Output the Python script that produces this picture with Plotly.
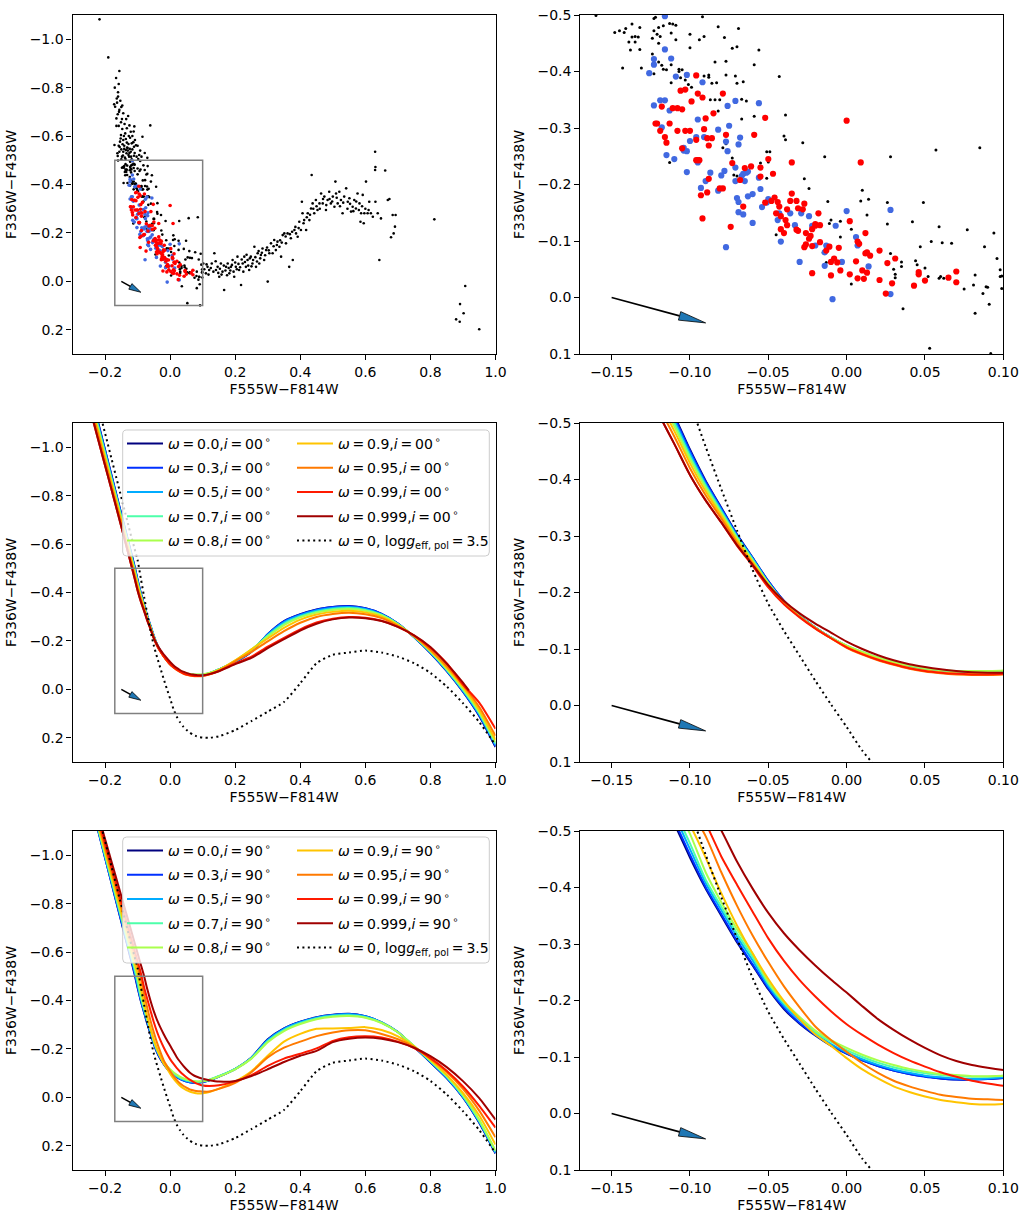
import math
import plotly.graph_objects as go

FONT = "DejaVu Sans"
W, H = 1028, 1223

# ---------------- observed photometry (top row) ----------------
BLACK_X = [
    -0.160, -0.148, -0.145, -0.141, -0.142, -0.137, -0.137, -0.135, -0.132, -0.139, -0.138, -0.135, -0.133, -0.132,
    -0.143, -0.131, -0.123, -0.122, -0.123, -0.121, -0.120, -0.119, -0.117, -0.113, -0.111, -0.109, -0.112, -0.124,
    -0.124, -0.123, -0.120, -0.120, -0.118, -0.117, -0.115, -0.112, -0.112, -0.113, -0.109, -0.107, -0.105, -0.107,
    -0.106, -0.103, -0.101, -0.100, -0.100, -0.099, -0.094, -0.091, -0.092, -0.091, -0.088, -0.088, -0.086, -0.087,
    -0.084, -0.082, -0.083, -0.081, -0.084, -0.078, -0.077, -0.077, -0.073, -0.070, -0.071, -0.070, -0.071, -0.067,
    -0.069, -0.067, -0.082, -0.079, -0.077, -0.073, -0.070, -0.072, -0.066, -0.064, -0.059, -0.056, -0.059, -0.055,
    -0.050, -0.051, -0.051, -0.049, -0.045, -0.043, -0.039, -0.040, -0.039, -0.028, -0.027, -0.024, -0.014, -0.012,
    -0.011, -0.010, -0.004, -0.004, -0.013, -0.015, 0.003, 0.003, 0.009, 0.010, 0.013, 0.014, 0.026, 0.026, 0.028,
    0.028, 0.030, 0.031, 0.031, 0.035, 0.035, 0.036, 0.042, 0.044, 0.045, 0.047, 0.049, 0.050, 0.052, 0.054, 0.057,
    0.059, 0.060, 0.062, 0.059, 0.061, 0.067, 0.075, 0.077, 0.081, 0.082, 0.085, 0.087, 0.088, 0.089, 0.090, 0.091,
    0.094, 0.096, 0.098, 0.098, 0.099, 0.099, 0.082, 0.053, 0.092,
    -0.217, -0.190, -0.156, -0.160, -0.160, -0.172, -0.163, -0.156, -0.144, -0.129, -0.171, -0.165, -0.158, -0.125,
    -0.112, -0.085, -0.061, -0.151, -0.144, -0.141, -0.128, -0.118, -0.111, -0.121, -0.136, -0.144, -0.156, -0.161,
    -0.148, -0.141, -0.131, -0.113, -0.105, -0.150, -0.139, -0.128, -0.118, -0.111, -0.162, -0.155, -0.146, -0.134,
    -0.126, -0.095, -0.133, -0.123, -0.108, -0.138, -0.121, -0.147, -0.132, -0.154, -0.124, -0.151, -0.165, -0.169,
    -0.161, -0.153, -0.147,
    -0.150, -0.145, -0.137, -0.130, -0.125, -0.120, -0.116, -0.109, -0.103, -0.098, -0.158, -0.152, -0.142, -0.136,
    -0.127, -0.116, -0.110, -0.133, -0.140, -0.148, -0.157, -0.164, -0.170, -0.166, -0.158, -0.150, -0.135, -0.100,
    -0.092, -0.088, -0.078, -0.070,
    0.102, 0.110, 0.115, 0.120, 0.128, 0.136, 0.141, 0.146, 0.151, 0.156, 0.161, 0.166, 0.172, 0.177, 0.182, 0.187,
    0.192, 0.197, 0.202, 0.207, 0.212, 0.218, 0.223, 0.228, 0.233, 0.238, 0.243, 0.248, 0.253, 0.259, 0.264, 0.269,
    0.274, 0.279, 0.284, 0.289, 0.295, 0.300, 0.305, 0.310, 0.315, 0.320, 0.325, 0.330, 0.336, 0.341, 0.346, 0.351,
    0.356, 0.361, 0.366, 0.371, 0.377, 0.382, 0.387, 0.392, 0.397, 0.402, 0.405, 0.407, 0.412, 0.418, 0.423, 0.428,
    0.433, 0.435, 0.438, 0.443, 0.448, 0.453, 0.459, 0.464, 0.469, 0.474, 0.479, 0.484, 0.489, 0.494, 0.500, 0.505,
    0.508, 0.510, 0.515, 0.520, 0.525, 0.530, 0.535, 0.541, 0.546, 0.551, 0.556, 0.561, 0.566, 0.571, 0.576, 0.582,
    0.585, 0.587, 0.592, 0.595, 0.597, 0.602, 0.607, 0.612, 0.617, 0.623, 0.630, 0.630, 0.631, 0.631, 0.638, 0.643,
    0.648, 0.661, 0.669, 0.674, 0.679, 0.684, 0.687, 0.691, 0.693, 0.812, 0.879, 0.890, 0.891, 0.902, 0.907, 0.950,
    0.105, 0.112, 0.118, 0.125, 0.133, 0.140, 0.148, 0.153, 0.158, 0.165, 0.170, 0.175, 0.180, 0.185, 0.190, 0.195,
    0.200, 0.205, 0.210, 0.215, 0.220, 0.225, 0.230, 0.235, 0.240, 0.245, 0.250, 0.255, 0.262, 0.267, 0.272, 0.277,
    0.282, 0.292, 0.298, 0.303, 0.318, 0.328, 0.338, 0.343, 0.355, 0.368, 0.375, 0.385, 0.395, 0.410, 0.420, 0.430,
    0.440, 0.450, 0.460, 0.470, 0.480, 0.490, 0.498, 0.512, 0.522, 0.532, 0.545, 0.553, 0.563, 0.572, 0.580, 0.590,
    0.600, 0.610,
]
BLACK_Y = [
    -0.499, -0.469, -0.472, -0.476, -0.469, -0.484, -0.461, -0.462, -0.478, -0.452, -0.438, -0.452, -0.461, -0.439,
    -0.406, -0.406, -0.494, -0.496, -0.472, -0.466, -0.478, -0.462, -0.481, -0.485, -0.484, -0.482, -0.468, -0.459,
    -0.431, -0.396, -0.450, -0.417, -0.411, -0.404, -0.403, -0.412, -0.380, -0.239, -0.456, -0.404, -0.403, -0.400,
    -0.389, -0.385, -0.377, -0.442, -0.466, -0.372, -0.456, -0.462, -0.497, -0.392, -0.394, -0.390, -0.379, -0.350,
    -0.350, -0.479, -0.380, -0.350, -0.417, -0.460, -0.418, -0.394, -0.441, -0.444, -0.392, -0.379, -0.350, -0.351,
    -0.476, -0.316, -0.330, -0.265, -0.272, -0.247, -0.215, -0.217, -0.382, -0.348, -0.412, -0.438, -0.321, -0.238,
    -0.240, -0.258, -0.211, -0.258, -0.111, -0.391, -0.323, -0.286, -0.279, -0.274, -0.210, -0.193, -0.249, -0.170,
    -0.131, -0.137, -0.135, -0.107, -0.062, -0.079, -0.024, -0.121, -0.171, -0.190, -0.146, -0.174, -0.168, -0.130,
    -0.249, -0.078, -0.050, -0.035, -0.041, -0.063, -0.055, 0.020, -0.134, -0.065, -0.058, -0.090, -0.168, -0.052,
    -0.037, -0.099, -0.261, -0.034, -0.037, -0.034, -0.125, -0.097, -0.096, -0.015, -0.120, -0.022, -0.040, -0.265,
    -0.007, -0.090, -0.019, -0.018, 0.012, -0.114, -0.069, -0.049, -0.037, -0.016, -0.038, 0.028, 0.090, 0.099,
    -1.082, -0.925, -0.869, -0.781, -0.763, -0.731, -0.738, -0.708, -0.694, -0.683, -0.563, -0.642, -0.642, -0.644,
    -0.619, -0.597, -0.644, -0.604, -0.584, -0.560, -0.567, -0.570, -0.556, -0.535, -0.542, -0.535, -0.535, -0.518,
    -0.515, -0.547, -0.551, -0.575, -0.562, -0.504, -0.511, -0.522, -0.504, -0.519, -0.529, -0.555, -0.566, -0.529,
    -0.515, -0.522, -0.573, -0.593, -0.584, -0.611, -0.618, -0.629, -0.553, -0.577, -0.547, -0.657, -0.673, -0.721,
    -0.690, -0.746, -0.726,
    -0.545, -0.520, -0.505, -0.540, -0.530, -0.515, -0.545, -0.530, -0.515, -0.505, -0.560, -0.590, -0.600, -0.588,
    -0.600, -0.600, -0.640, -0.632, -0.650, -0.670, -0.700, -0.755, -0.800, -0.840, -0.815, -0.720, -0.670, -0.560,
    -0.540, -0.515, -0.530, -0.510,
    -0.074, -0.033, -0.060, -0.047, -0.074, -0.116, -0.047, -0.060, -0.019, -0.074, -0.040, 0.036, -0.060, -0.074,
    -0.033, -0.060, -0.088, -0.019, -0.060, -0.102, -0.047, 0.015, -0.074, -0.102, -0.060, -0.088, -0.047, -0.102,
    -0.074, -0.143, -0.060, -0.116, -0.074, -0.109, -0.136, -0.088, -0.129, 0.001, -0.116, -0.157, -0.116, -0.171,
    -0.129, -0.164, -0.143, -0.102, -0.191, -0.198, -0.157, -0.198, -0.060, -0.178, -0.088, -0.212, -0.198, -0.184,
    -0.246, -0.212, -0.329, -0.281, -0.253, -0.212, -0.281, -0.253, -0.301, -0.439, -0.322, -0.281, -0.336, -0.295,
    -0.322, -0.363, -0.322, -0.350, -0.295, -0.336, -0.370, -0.322, -0.350, -0.308, -0.412, -0.363, -0.322, -0.370,
    -0.336, -0.281, -0.350, -0.384, -0.329, -0.343, -0.288, -0.308, -0.336, -0.301, -0.363, -0.322, -0.246, -0.281,
    -0.357, -0.240, -0.281, -0.412, -0.281, -0.329, -0.281, -0.267, -0.535, -0.460, -0.472, -0.329, -0.281, -0.088,
    -0.260, -0.458, -0.336, -0.340, -0.182, -0.274, -0.198, -0.226, -0.274, -0.256, 0.157, 0.167, 0.094, 0.132,
    0.019, 0.198,
    -0.050, -0.070, -0.028, -0.055, -0.040, -0.083, -0.035, -0.052, -0.028, -0.065, -0.045, -0.025, -0.055, -0.045,
    -0.068, -0.040, -0.078, -0.050, -0.072, -0.058, -0.090, -0.040, -0.080, -0.110, -0.065, -0.095, -0.062, -0.088,
    -0.100, -0.082, -0.125, -0.095, -0.118, -0.108, -0.140, -0.128, -0.145, -0.150, -0.170, -0.160, -0.185, -0.195,
    -0.205, -0.225, -0.220, -0.240, -0.265, -0.275, -0.300, -0.310, -0.300, -0.340, -0.315, -0.340, -0.330, -0.345,
    -0.310, -0.325, -0.300, -0.320, -0.290, -0.330, -0.295, -0.310, -0.300, -0.295,
]

BLUE_X = [
    -0.116, -0.123, -0.123, -0.116, -0.112, -0.126, -0.109, -0.102, -0.092, -0.123, -0.119, -0.116, -0.113, -0.118,
    -0.115, -0.110, -0.104, -0.104, -0.102, -0.102, -0.100, -0.096, -0.095, -0.091, -0.095, -0.093, -0.090, -0.087,
    -0.082, -0.082, -0.080, -0.078, -0.077, -0.076, -0.076, -0.075, -0.077, -0.071, -0.069, -0.068, -0.071, -0.071,
    -0.070, -0.069, -0.069, -0.066, -0.067, -0.066, -0.065, -0.064, -0.063, -0.063, -0.060, -0.060, -0.056, -0.056,
    -0.055, -0.054, -0.051, -0.050, -0.043, -0.044, -0.042, -0.036, -0.033, -0.030, -0.029, -0.024, -0.022, -0.020,
    -0.014, -0.014, -0.013, -0.007, -0.003, -0.000, 0.006, 0.007, 0.014, 0.028, 0.028, -0.009,
]
BLUE_Y = [
    -0.498, -0.422, -0.412, -0.439, -0.423, -0.397, -0.391, -0.394, -0.381, -0.340, -0.349, -0.349, -0.331, -0.301,
    -0.252, -0.245, -0.265, -0.260, -0.259, -0.222, -0.277, -0.284, -0.315, -0.284, -0.239, -0.194, -0.206, -0.221,
    -0.189, -0.297, -0.216, -0.224, -0.276, -0.339, -0.259, -0.304, -0.089, -0.348, -0.271, -0.283, -0.230, -0.206,
    -0.176, -0.169, -0.151, -0.147, -0.215, -0.219, -0.206, -0.221, -0.223, -0.179, -0.183, -0.132, -0.344, -0.212,
    -0.192, -0.160, -0.168, -0.174, -0.149, -0.137, -0.099, -0.149, -0.128, -0.063, -0.149, -0.144, -0.127, -0.092,
    -0.080, -0.056, -0.092, -0.127, -0.063, -0.153, -0.107, -0.092, -0.055, -0.155, -0.006, 0.003,
]

RED_X = [
    -0.096, -0.106, -0.103, -0.099, -0.095, -0.092, -0.079, -0.085, -0.090, -0.118, -0.111, -0.108, -0.105, -0.122,
    -0.121, -0.113, -0.119, -0.116, -0.115, -0.108, -0.103, -0.100, -0.096, -0.091, -0.089, -0.086, -0.088, -0.077,
    -0.073, -0.059, -0.052, -0.105, -0.096, -0.095, -0.094, -0.088, -0.089, -0.093, -0.092, -0.079, -0.081, -0.074,
    -0.068, -0.065, -0.061, -0.066, -0.055, -0.055, -0.050, -0.047, -0.052, -0.048, -0.046, -0.044, -0.043, -0.042,
    -0.045, -0.042, -0.039, -0.040, -0.038, -0.038, -0.036, -0.035, -0.032, -0.031, -0.028, -0.032, -0.031, -0.026,
    -0.027, -0.024, -0.022, -0.020, -0.020, -0.018, -0.017, -0.035, -0.026, -0.027, -0.023, -0.022, -0.022, -0.017,
    -0.013, -0.011, -0.010, -0.010, -0.008, -0.006, -0.004, -0.005, 0.000, 0.002, 0.002, 0.006, 0.007, 0.008,
    0.007, 0.009, 0.010, 0.011, 0.012, 0.012, 0.013, 0.013, 0.015, 0.021, 0.021, 0.025, 0.026, 0.029, 0.031, 0.043,
    0.046, 0.046, 0.050, 0.065, 0.070, 0.070,
]
RED_Y = [
    -0.393, -0.366, -0.368, -0.347, -0.361, -0.354, -0.361, -0.326, -0.317, -0.338, -0.335, -0.335, -0.333, -0.308,
    -0.308, -0.308, -0.295, -0.284, -0.274, -0.295, -0.295, -0.295, -0.279, -0.298, -0.282, -0.282, -0.269, -0.288,
    -0.238, -0.288, -0.318, -0.264, -0.243, -0.243, -0.243, -0.210, -0.186, -0.181, -0.140, -0.193, -0.193, -0.125,
    -0.208, -0.229, -0.232, -0.161, -0.230, -0.214, -0.245, -0.219, -0.168, -0.171, -0.177, -0.169, -0.161, -0.144,
    -0.149, -0.121, -0.137, -0.114, -0.128, -0.156, -0.171, -0.184, -0.171, -0.158, -0.156, -0.120, -0.118, -0.114,
    -0.089, -0.104, -0.121, -0.130, -0.127, -0.149, -0.128, -0.239, -0.094, -0.166, -0.109, -0.091, -0.043, -0.098,
    -0.083, -0.090, -0.063, -0.039, -0.069, -0.062, -0.048, -0.088, -0.313, -0.135, -0.041, -0.064, -0.099, -0.095,
    -0.034, -0.239, -0.048, -0.033, -0.078, -0.114, -0.044, -0.080, -0.074, -0.083, -0.031, -0.007, -0.061, -0.025,
    -0.069, -0.021, -0.045, -0.041, -0.030, -0.035, -0.027, -0.046,
]

# ---------------- model isochrone colours (rows 2 and 3) ----------------
X_GRID = [-0.24, -0.22, -0.20, -0.18, -0.16, -0.14, -0.13, -0.12, -0.11, -0.10, -0.09, -0.08, -0.07, -0.06,
          -0.05, -0.04, -0.03, -0.02, -0.01, 0.00, 0.01, 0.02, 0.03, 0.04, 0.05, 0.06, 0.07, 0.08, 0.09, 0.10,
          0.12, 0.15, 0.20, 0.25, 0.30, 0.35, 0.40, 0.45, 0.50, 0.55, 0.60, 0.65, 0.70, 0.75, 0.80, 0.85, 0.90,
          0.95, 1.00]
X_GRID_I0_W0999 = X_GRID[:47] + [0.918]

OMEGA_LABELS = ["0.0", "0.3", "0.5", "0.7", "0.8", "0.9", "0.95", "0.99", "0.999"]
OMEGA_COLORS = ["#00007f", "#0030ff", "#00acff", "#4dffaa", "#aaff4d", "#ffc400", "#ff7a00", "#ff1a00", "#a00000"]

I0_W0000 = [-1.202, -1.096, -0.990, -0.884, -0.778, -0.672, -0.619, -0.566, -0.513, -0.453, -0.398, -0.350, -0.303, -0.262, -0.220, -0.185, -0.159, -0.138, -0.120,
            -0.105, -0.093, -0.083, -0.075, -0.069, -0.064, -0.061, -0.059, -0.058, -0.058, -0.059, -0.066, -0.082,
            -0.112, -0.155, -0.228, -0.282, -0.310, -0.330, -0.340, -0.344, -0.335, -0.312, -0.272, -0.215, -0.150, -0.075, 0.010, 0.110, 0.238]
I0_W0300 = [-1.198, -1.092, -0.987, -0.881, -0.775, -0.669, -0.616, -0.563, -0.510, -0.451, -0.396, -0.349, -0.302, -0.261, -0.220, -0.185, -0.159, -0.138, -0.120,
            -0.105, -0.093, -0.083, -0.075, -0.069, -0.064, -0.061, -0.059, -0.058, -0.058, -0.059, -0.066, -0.082,
            -0.113, -0.156, -0.228, -0.281, -0.309, -0.329, -0.340, -0.343, -0.335, -0.312, -0.272, -0.216, -0.151, -0.077, 0.008, 0.107, 0.235]
I0_W0500 = [-1.190, -1.085, -0.980, -0.874, -0.769, -0.664, -0.611, -0.558, -0.505, -0.446, -0.392, -0.346, -0.300, -0.260, -0.218, -0.184, -0.159, -0.138, -0.120,
            -0.105, -0.093, -0.084, -0.076, -0.069, -0.064, -0.061, -0.059, -0.059, -0.059, -0.060, -0.066, -0.082,
            -0.115, -0.158, -0.226, -0.277, -0.306, -0.326, -0.336, -0.340, -0.332, -0.310, -0.271, -0.216, -0.153, -0.079, 0.005, 0.103, 0.230]
I0_W0700 = [-1.182, -1.078, -0.973, -0.868, -0.764, -0.658, -0.606, -0.553, -0.500, -0.441, -0.389, -0.343, -0.298, -0.258, -0.217, -0.183, -0.158, -0.138, -0.120,
            -0.106, -0.095, -0.085, -0.077, -0.071, -0.066, -0.063, -0.061, -0.060, -0.060, -0.061, -0.067, -0.082,
            -0.118, -0.162, -0.222, -0.271, -0.301, -0.321, -0.332, -0.336, -0.328, -0.307, -0.269, -0.217, -0.155, -0.082, 0.001, 0.098, 0.224]
I0_W0800 = [-1.174, -1.070, -0.966, -0.862, -0.758, -0.653, -0.600, -0.547, -0.494, -0.436, -0.385, -0.340, -0.296, -0.256, -0.216, -0.183, -0.158, -0.137, -0.120,
            -0.106, -0.095, -0.085, -0.077, -0.071, -0.066, -0.063, -0.061, -0.061, -0.061, -0.062, -0.068, -0.082,
            -0.119, -0.165, -0.218, -0.265, -0.297, -0.317, -0.328, -0.332, -0.325, -0.305, -0.268, -0.218, -0.157, -0.085, -0.003, 0.093, 0.218]
I0_W0900 = [-1.162, -1.059, -0.956, -0.852, -0.749, -0.644, -0.592, -0.539, -0.486, -0.429, -0.379, -0.336, -0.292, -0.254, -0.214, -0.182, -0.157, -0.137, -0.119,
            -0.104, -0.092, -0.082, -0.074, -0.067, -0.062, -0.059, -0.057, -0.056, -0.056, -0.057, -0.064, -0.080,
            -0.120, -0.165, -0.210, -0.254, -0.288, -0.309, -0.320, -0.325, -0.318, -0.300, -0.265, -0.219, -0.160, -0.090, -0.010, 0.085, 0.208]
I0_W0950 = [-1.146, -1.044, -0.942, -0.840, -0.737, -0.634, -0.581, -0.529, -0.476, -0.420, -0.372, -0.331, -0.288, -0.251, -0.212, -0.181, -0.157, -0.137, -0.119,
            -0.102, -0.090, -0.080, -0.072, -0.065, -0.060, -0.057, -0.055, -0.054, -0.054, -0.055, -0.061, -0.077,
            -0.116, -0.155, -0.198, -0.240, -0.275, -0.299, -0.311, -0.316, -0.310, -0.294, -0.262, -0.220, -0.164, -0.096, -0.018, 0.073, 0.192]
I0_W0990 = [-1.127, -1.026, -0.925, -0.824, -0.723, -0.620, -0.568, -0.516, -0.463, -0.408, -0.363, -0.324, -0.283, -0.247, -0.209, -0.179, -0.156, -0.136, -0.119,
            -0.103, -0.091, -0.081, -0.073, -0.066, -0.061, -0.058, -0.056, -0.055, -0.055, -0.056, -0.062, -0.076,
            -0.107, -0.135, -0.176, -0.213, -0.248, -0.276, -0.292, -0.299, -0.296, -0.283, -0.258, -0.222, -0.172, -0.108, -0.020, 0.055, 0.163]
I0_W0999 = [-1.127, -1.026, -0.925, -0.824, -0.723, -0.620, -0.568, -0.516, -0.463, -0.408, -0.363, -0.324, -0.284, -0.249, -0.213, -0.185, -0.163, -0.145, -0.129,
            -0.113, -0.100, -0.089, -0.080, -0.073, -0.068, -0.064, -0.061, -0.059, -0.058, -0.058, -0.063, -0.075,
            -0.104, -0.130, -0.170, -0.207, -0.243, -0.271, -0.289, -0.297, -0.294, -0.282, -0.258, -0.223, -0.175, -0.106, -0.028, 0.004]

I90_W0000 = [-1.202, -1.096, -0.990, -0.884, -0.778, -0.672, -0.619, -0.566, -0.513, -0.453, -0.398, -0.350, -0.303, -0.262, -0.220, -0.185, -0.159, -0.138, -0.120,
             -0.106, -0.094, -0.084, -0.076, -0.070, -0.066, -0.062, -0.060, -0.060, -0.061, -0.063, -0.070, -0.086,
             -0.118, -0.165, -0.240, -0.285, -0.312, -0.331, -0.341, -0.345, -0.335, -0.310, -0.270, -0.208, -0.145, -0.080, 0.000, 0.105, 0.232]
I90_W0300 = [-1.200, -1.095, -0.990, -0.885, -0.780, -0.676, -0.623, -0.571, -0.518, -0.458, -0.401, -0.353, -0.306, -0.264, -0.222, -0.187, -0.160, -0.139, -0.121,
             -0.106, -0.094, -0.084, -0.076, -0.070, -0.065, -0.062, -0.060, -0.060, -0.061, -0.063, -0.070, -0.086,
             -0.117, -0.164, -0.238, -0.284, -0.311, -0.330, -0.340, -0.344, -0.335, -0.310, -0.270, -0.209, -0.146, -0.081, -0.001, 0.103, 0.230]
I90_W0500 = [-1.203, -1.099, -0.995, -0.892, -0.788, -0.684, -0.632, -0.580, -0.528, -0.468, -0.408, -0.360, -0.313, -0.271, -0.226, -0.191, -0.165, -0.141, -0.123,
             -0.108, -0.096, -0.086, -0.078, -0.072, -0.067, -0.064, -0.062, -0.061, -0.062, -0.064, -0.071, -0.087,
             -0.117, -0.163, -0.236, -0.282, -0.310, -0.329, -0.339, -0.343, -0.334, -0.310, -0.270, -0.210, -0.148, -0.083, -0.003, 0.100, 0.228]
I90_W0700 = [-1.209, -1.105, -1.002, -0.899, -0.795, -0.692, -0.640, -0.588, -0.536, -0.478, -0.414, -0.366, -0.319, -0.277, -0.230, -0.195, -0.168, -0.144, -0.127,
             -0.112, -0.100, -0.090, -0.082, -0.076, -0.071, -0.068, -0.066, -0.065, -0.065, -0.067, -0.073, -0.088,
             -0.118, -0.162, -0.232, -0.278, -0.306, -0.326, -0.336, -0.339, -0.331, -0.308, -0.269, -0.211, -0.150, -0.086, -0.006, 0.097, 0.224]
I90_W0800 = [-1.213, -1.110, -1.008, -0.905, -0.803, -0.700, -0.649, -0.597, -0.546, -0.495, -0.427, -0.374, -0.326, -0.283, -0.233, -0.198, -0.171, -0.147, -0.130,
             -0.116, -0.104, -0.094, -0.086, -0.079, -0.074, -0.070, -0.068, -0.066, -0.066, -0.067, -0.072, -0.086,
             -0.116, -0.160, -0.228, -0.274, -0.303, -0.323, -0.333, -0.336, -0.329, -0.307, -0.269, -0.212, -0.152, -0.089, -0.010, 0.092, 0.220]
I90_W0900 = [-1.222, -1.120, -1.019, -0.917, -0.815, -0.714, -0.663, -0.612, -0.561, -0.511, -0.453, -0.390, -0.333, -0.283, -0.238, -0.199, -0.167, -0.140, -0.120,
             -0.098, -0.078, -0.062, -0.048, -0.038, -0.030, -0.024, -0.020, -0.017, -0.016, -0.017, -0.022, -0.036,
             -0.066, -0.108, -0.172, -0.230, -0.262, -0.283, -0.284, -0.286, -0.290, -0.278, -0.252, -0.210, -0.155, -0.093, -0.018, 0.075, 0.195]
I90_W0950 = [-1.227, -1.129, -1.031, -0.933, -0.834, -0.736, -0.687, -0.638, -0.589, -0.540, -0.491, -0.427, -0.368, -0.315, -0.268, -0.225, -0.188, -0.154, -0.130,
             -0.109, -0.089, -0.072, -0.058, -0.048, -0.040, -0.033, -0.029, -0.026, -0.025, -0.024, -0.024, -0.035,
             -0.060, -0.104, -0.165, -0.205, -0.230, -0.253, -0.268, -0.277, -0.277, -0.262, -0.240, -0.208, -0.160, -0.105, -0.035, 0.055, 0.165]
I90_W0990 = [-1.241, -1.144, -1.047, -0.950, -0.853, -0.756, -0.708, -0.659, -0.611, -0.562, -0.514, -0.455, -0.405, -0.357, -0.310, -0.270, -0.236, -0.207, -0.181,
             -0.158, -0.139, -0.122, -0.107, -0.094, -0.083, -0.073, -0.065, -0.058, -0.053, -0.049, -0.047, -0.050,
             -0.066, -0.092, -0.130, -0.160, -0.180, -0.202, -0.233, -0.248, -0.252, -0.247, -0.230, -0.203, -0.162, -0.110, -0.045, 0.035, 0.125]
I90_W0999 = [-1.256, -1.162, -1.067, -0.973, -0.879, -0.784, -0.737, -0.690, -0.643, -0.595, -0.548, -0.501, -0.446, -0.398, -0.355, -0.319, -0.289, -0.262, -0.237,
             -0.214, -0.190, -0.167, -0.148, -0.131, -0.116, -0.103, -0.093, -0.086, -0.081, -0.077, -0.071, -0.065,
             -0.068, -0.088, -0.116, -0.146, -0.172, -0.192, -0.228, -0.242, -0.247, -0.242, -0.228, -0.205, -0.170, -0.125, -0.067, 0.003, 0.092]

W0_LOGG35 = [-1.270, -1.164, -1.058, -0.952, -0.846, -0.740, -0.687, -0.634, -0.585, -0.534, -0.458, -0.383, -0.310, -0.240, -0.180, -0.132, -0.088, -0.044, -0.002,
             0.038, 0.080, 0.112, 0.135, 0.153, 0.167, 0.178, 0.187, 0.193, 0.197, 0.199, 0.200, 0.194,
             0.168, 0.131, 0.092, 0.052, -0.025, -0.108, -0.143, -0.152, -0.160, -0.152, -0.135, -0.108, -0.068, -0.012, 0.057, 0.135, 0.230]

I0_CURVES = [I0_W0000, I0_W0300, I0_W0500, I0_W0700, I0_W0800, I0_W0900, I0_W0950, I0_W0990, I0_W0999]
I90_CURVES = [I90_W0000, I90_W0300, I90_W0500, I90_W0700, I90_W0800, I90_W0900, I90_W0950, I90_W0990, I90_W0999]
I0_XS = [X_GRID] * 8 + [X_GRID_I0_W0999]
I90_XS = [X_GRID] * 9
INCL_LABELS = ["00", "90"]

# reddening vector and zoom box
REDDEN_START = (-0.15, 0.0)
REDDEN_END = (-0.09, 0.045)
ZOOM_BOX = (-0.17, 0.10, -0.5, 0.1)

# ---------------- axes / layout ----------------
LEFT_X_RANGE = [-0.3, 1.0]
LEFT_Y_RANGE = [0.3, -1.1]
RIGHT_X_RANGE = [-0.17, 0.10]
RIGHT_Y_RANGE = [0.1, -0.5]
LEFT_X_TICKS = [-0.2, 0.0, 0.2, 0.4, 0.6, 0.8, 1.0]
LEFT_Y_TICKS = [-1.0, -0.8, -0.6, -0.4, -0.2, 0.0, 0.2]
RIGHT_X_TICKS = [-0.15, -0.10, -0.05, 0.0, 0.05, 0.10]
RIGHT_Y_TICKS = [-0.5, -0.4, -0.3, -0.2, -0.1, 0.0, 0.1]
X_TITLE = "F555W\u2212F814W"
Y_TITLE = "F336W\u2212F438W"

COL_PX = [(72.5, 495.5), (580.3, 1003.3)]
ROW_PX = [(15, 354), (423, 762), (831, 1170)]
TS = "\u2009"  # thin space, as in math text


def ttext(vals, nd):
    out = []
    for v in vals:
        s = f"{v:.{nd}f}"
        if s.startswith("-") and float(s) == 0:
            s = s[1:]
        out.append(s.replace("-", "\u2212"))
    return out


def suffix(idx):
    return "" if idx == 0 else str(idx + 1)


fig = go.Figure()
layout = dict(
    width=W, height=H, margin=dict(l=0, r=0, t=0, b=0),
    paper_bgcolor="white", plot_bgcolor="white",
    font=dict(family=FONT, size=14, color="black"),
    hovermode=False, template="none",
)

tickfont = dict(family=FONT, size=14, color="black")
for idx in range(6):
    r, c = divmod(idx, 2)
    s = suffix(idx)
    xr = LEFT_X_RANGE if c == 0 else RIGHT_X_RANGE
    yr = LEFT_Y_RANGE if c == 0 else RIGHT_Y_RANGE
    xt = LEFT_X_TICKS if c == 0 else RIGHT_X_TICKS
    yt = LEFT_Y_TICKS if c == 0 else RIGHT_Y_TICKS
    common = dict(ticks="outside", ticklen=5, tickwidth=1.1, tickcolor="black", showline=True,
                  linecolor="black", linewidth=1.1, mirror=True, showgrid=False, zeroline=False,
                  tickfont=tickfont, automargin=False, tickmode="array", fixedrange=True)
    layout["xaxis" + s] = dict(
        domain=[COL_PX[c][0] / W, COL_PX[c][1] / W], anchor="y" + s, range=xr,
        tickvals=xt, ticktext=ttext(xt, 1 if c == 0 else 2),
        title=dict(text=X_TITLE, font=tickfont, standoff=5), **common)
    layout["yaxis" + s] = dict(
        domain=[1 - ROW_PX[r][1] / H, 1 - ROW_PX[r][0] / H], anchor="x" + s, range=yr,
        tickvals=yt, ticktext=ttext(yt, 1),
        title=dict(text=Y_TITLE, font=tickfont, standoff=9), **common)


def add(trace, idx):
    s = suffix(idx)
    trace.update(xaxis="x" + s, yaxis="y" + s)
    fig.add_trace(trace)


# ---- row 1: photometry ----
for idx, (bs, cs) in zip([0, 1], [(2.6, 3.6), (3.0, 6.2)]):
    add(go.Scatter(x=BLACK_X, y=BLACK_Y, mode="markers", showlegend=False,
                   marker=dict(color="black", size=bs, line=dict(width=0))), idx)
    add(go.Scatter(x=BLUE_X, y=BLUE_Y, mode="markers", showlegend=False,
                   marker=dict(color="royalblue", size=cs, line=dict(width=0))), idx)
    add(go.Scatter(x=RED_X, y=RED_Y, mode="markers", showlegend=False,
                   marker=dict(color="red", size=cs, line=dict(width=0))), idx)

# ---- rows 2 and 3: models ----
legend_ids = [("legend", "legend2"), ("legend3", "legend4")]
for row, (curves, xs, incl) in enumerate([(I0_CURVES, I0_XS, INCL_LABELS[0]), (I90_CURVES, I90_XS, INCL_LABELS[1])]):
    for col in range(2):
        idx = (row + 1) * 2 + col
        for k, (yy, xx) in enumerate(zip(curves, xs)):
            name = f"<i>ω</i>{TS}={TS}{OMEGA_LABELS[k]},<i>i</i>{TS}={TS}{incl}<sup>{TS}∘</sup>"
            add(go.Scatter(x=xx, y=yy, mode="lines", name=name,
                           line=dict(color=OMEGA_COLORS[k], width=2, shape="spline", smoothing=0.6),
                           showlegend=(col == 0), legend=legend_ids[row][0 if k < 5 else 1],
                           legendgroup=f"r{row}k{k}"), idx)
        add(go.Scatter(x=X_GRID, y=W0_LOGG35, mode="lines",
                       name=f"<i>ω</i>{TS}={TS}0, log<i>g</i><sub>eff, pol</sub>{TS}={TS}3.5",
                       line=dict(color="black", width=2, dash="2px,3.4px", shape="spline", smoothing=0.6),
                       showlegend=(col == 0), legend=legend_ids[row][1],
                       legendgroup=f"r{row}dot"), idx)

# ---- reddening arrows ----
for idx in range(6):
    r, c = divmod(idx, 2)
    xr = LEFT_X_RANGE if c == 0 else RIGHT_X_RANGE
    yr = LEFT_Y_RANGE if c == 0 else RIGHT_Y_RANGE
    hl, hw = (12.0, 3.2) if c == 0 else (27.0, 4.4)
    sx = (COL_PX[c][1] - COL_PX[c][0]) / (xr[1] - xr[0])
    sy = (ROW_PX[r][1] - ROW_PX[r][0]) / (yr[0] - yr[1])
    x0, y0 = REDDEN_START
    x1, y1 = REDDEN_END
    dxp, dyp = (x1 - x0) * sx, (y1 - y0) * sy
    L = math.hypot(dxp, dyp)
    ux, uy = dxp / L, dyp / L
    bx, by = x1 - ux * hl / sx, y1 - uy * hl / sy
    nx, ny = -uy, ux
    add(go.Scatter(x=[x0, bx], y=[y0, by], mode="lines", showlegend=False,
                   line=dict(color="black", width=1.6)), idx)
    add(go.Scatter(x=[x1, bx + nx * hw / sx, bx - nx * hw / sx, x1],
                   y=[y1, by + ny * hw / sy, by - ny * hw / sy, y1],
                   mode="lines", fill="toself", fillcolor="#1f77b4", showlegend=False,
                   line=dict(color="black", width=0.8)), idx)

shapes = []
for idx in [0, 2, 4]:
    s = suffix(idx)
    shapes.append(dict(type="rect", xref="x" + s, yref="y" + s, x0=ZOOM_BOX[0], x1=ZOOM_BOX[1],
                       y0=ZOOM_BOX[2], y1=ZOOM_BOX[3], line=dict(color="grey", width=1.5),
                       fillcolor="rgba(0,0,0,0)", layer="above"))


def rounded_box(x0, y0, x1, y1, rad):
    def P(x, y):
        return f"{x / W:.5f},{1 - y / H:.5f}"
    return (f"M {P(x0 + rad, y0)} L {P(x1 - rad, y0)} Q {P(x1, y0)} {P(x1, y0 + rad)} "
            f"L {P(x1, y1 - rad)} Q {P(x1, y1)} {P(x1 - rad, y1)} L {P(x0 + rad, y1)} "
            f"Q {P(x0, y1)} {P(x0, y1 - rad)} L {P(x0, y0 + rad)} Q {P(x0, y0)} {P(x0 + rad, y0)} Z")


LEG_BOX_TOPS = [430, 837]
for top in LEG_BOX_TOPS:
    shapes.append(dict(type="path", xref="paper", yref="paper", path=rounded_box(122.7, top, 489.3, top + 126, 4),
                       fillcolor="rgba(255,255,255,0.8)", line=dict(color="#cccccc", width=1), layer="above"))
layout["shapes"] = shapes

leg_common = dict(bgcolor="rgba(0,0,0,0)", borderwidth=0, font=dict(family=FONT, size=14, color="black"),
                  itemwidth=36, tracegroupgap=3, xanchor="left", yanchor="top", traceorder="grouped",
                  orientation="v")
for row, top in enumerate(LEG_BOX_TOPS):
    a, b = legend_ids[row]
    layout[a] = dict(x=122 / W, y=1 - (top - 2) / H, **leg_common)
    layout[b] = dict(x=292 / W, y=1 - (top - 2) / H, **leg_common)

fig.update_layout(**layout)
fig.write_html("out.html", include_plotlyjs=True, config={"displayModeBar": False})
